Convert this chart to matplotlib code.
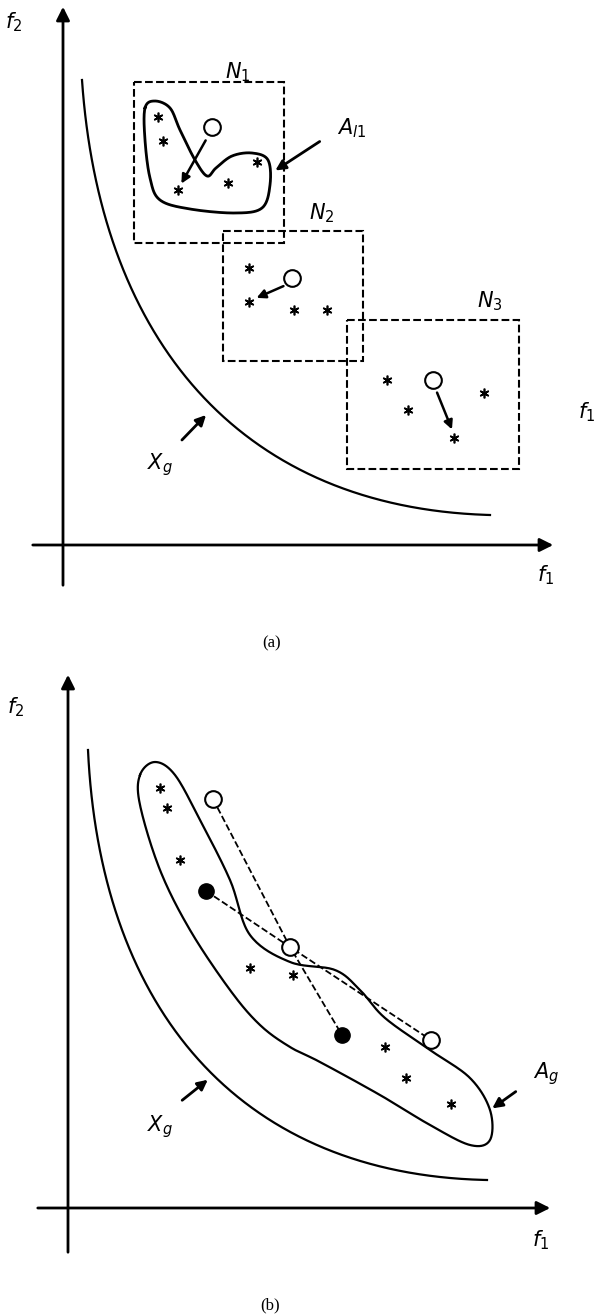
import numpy as np
import matplotlib
matplotlib.use("Agg")
import matplotlib.pyplot as plt
from matplotlib.patches import Rectangle, FancyArrowPatch

plt.rcParams['mathtext.fontset'] = 'custom'
plt.rcParams['mathtext.it'] = 'DejaVu Sans:italic'
plt.rcParams['mathtext.rm'] = 'DejaVu Sans'

# ---- data (pixel coordinates of the schematic) ----
boxes_a = [(134, 82, 284, 243), (223, 231, 363, 361), (347, 320, 519, 469)]
box_labels = ["$N_1$", "$N_2$", "$N_3$"]
box_label_pos = [(238, 72), (322, 213), (490, 301)]
stars_a = [(158, 117), (163, 141), (178, 190), (228, 183), (257, 162),
           (249, 268), (249, 302), (294, 310), (327, 310),
           (387, 380), (408, 410), (484, 393), (454, 438)]
circles_a = [(212, 127), (292, 278), (433, 380)]
moves_a = [((207, 138), (180, 186)), ((286, 285), (254, 299)), ((436, 390), (453, 432))]
blob_a = [(145, 108), (155, 101), (170, 108), (180, 130), (195, 160), (207, 176),
          (216, 168), (232, 156), (252, 153), (268, 160), (270, 185), (262, 208),
          (235, 213), (190, 209), (160, 200), (150, 178), (145, 140)]
blob_b = [(140, 775), (155, 762), (175, 775), (200, 820), (230, 880), (250, 935),
          (290, 962), (335, 970), (360, 990), (385, 1018), (430, 1050), (470, 1078),
          (490, 1110), (490, 1140), (470, 1145), (430, 1125), (380, 1095), (320, 1062),
          (290, 1047), (260, 1025), (230, 990), (190, 930), (160, 870), (140, 805)]
stars_b = [(160, 788), (167, 808), (180, 860), (250, 968), (293, 975),
           (385, 1047), (406, 1078), (451, 1104)]
open_b = [(213, 799), (290, 947), (431, 1040)]
filled_b = [(206, 891), (342, 1035)]
dash1 = [(213, 799), (290, 947), (342, 1035)]
dash2 = [(206, 891), (290, 947), (431, 1040)]


def catmull(pts, n=20):
    p = np.array(pts, float)
    m = len(p)
    out = []
    for i in range(m):
        p0, p1, p2, p3 = p[i - 1], p[i], p[(i + 1) % m], p[(i + 2) % m]
        for t in np.linspace(0, 1, n, endpoint=False):
            out.append(0.5 * ((2 * p1) + (-p0 + p2) * t + (2 * p0 - 5 * p1 + 4 * p2 - p3) * t ** 2
                              + (-p0 + 3 * p1 - 3 * p2 + p3) * t ** 3))
    out.append(out[0])
    return np.array(out)


def bez(p0, p1, p2, p3, n=200):
    t = np.linspace(0, 1, n)[:, None]
    p0, p1, p2, p3 = map(np.array, (p0, p1, p2, p3))
    return (1 - t) ** 3 * p0 + 3 * (1 - t) ** 2 * t * p1 + 3 * (1 - t) * t ** 2 * p2 + t ** 3 * p3


fig = plt.figure(figsize=(5.96, 13.16), dpi=100)
ax = fig.add_axes([0, 0, 1, 1])
ax.set_xlim(0, 596)
ax.set_ylim(1316, 0)
ax.axis('off')


def arrow(a, b, lw=2, ms=14):
    ax.add_patch(FancyArrowPatch(a, b, arrowstyle='-|>', mutation_scale=ms, lw=lw, color='black'))


def star(x, y):
    ax.plot(x, y, marker=(6, 2, 0), ms=7, mew=1.2, color='black')


tx = dict(fontsize=15, ha='center', va='center')

# ---- panel a ----
arrow((63, 588), (63, 4), lw=2, ms=20)
arrow((30, 545), (556, 545), lw=2, ms=20)
ax.text(14, 22, "$f_2$", **tx)
ax.text(546, 575, "$f_1$", **tx)
ax.text(587, 412, "$f_1$", **tx)
c = bez((82, 80), (100, 340), (240, 508), (490, 515))
ax.plot(c[:, 0], c[:, 1], color='black', lw=1.6)
for (x0, y0, x1, y1), lab, (lx, ly) in zip(boxes_a, box_labels, box_label_pos):
    ax.add_patch(Rectangle((x0, y0), x1 - x0, y1 - y0, fill=False, ls='--', lw=1.5, ec='black'))
    ax.text(lx, ly, lab, **tx)
bl = catmull(blob_a)
ax.plot(bl[:, 0], bl[:, 1], color='black', lw=2)
for s in stars_a:
    star(*s)
for a, b in moves_a:
    arrow(a, b, lw=1.8, ms=13)
for x, y in circles_a:
    ax.plot(x, y, 'o', ms=12, mfc='white', mec='black', mew=1.5)
ax.text(352, 128, "$A_{l1}$", **tx)
arrow((322, 140), (273, 172), lw=2, ms=15)
ax.text(160, 465, "$X_g$", **tx)
arrow((180, 442), (208, 413), lw=2, ms=15)
ax.text(272, 643, "(a)", fontsize=12, ha='center', va='center', family='Liberation Serif')

# ---- panel b ----
arrow((68, 1255), (68, 672), lw=2, ms=20)
arrow((35, 1208), (553, 1208), lw=2, ms=20)
ax.text(16, 707, "$f_2$", **tx)
ax.text(541, 1240, "$f_1$", **tx)
c = bez((88, 750), (100, 1010), (240, 1175), (487, 1180))
ax.plot(c[:, 0], c[:, 1], color='black', lw=1.6)
bl = catmull(blob_b)
ax.plot(bl[:, 0], bl[:, 1], color='black', lw=1.6)
for s in stars_b:
    star(*s)
for d in (dash1, dash2):
    d = np.array(d)
    ax.plot(d[:, 0], d[:, 1], ls='--', color='black', lw=1.3)
for x, y in open_b:
    ax.plot(x, y, 'o', ms=12, mfc='white', mec='black', mew=1.5)
for x, y in filled_b:
    ax.plot(x, y, 'o', ms=11, color='black')
ax.text(546, 1074, "$A_g$", **tx)
arrow((518, 1090), (490, 1110), lw=2, ms=15)
ax.text(160, 1127, "$X_g$", **tx)
arrow((180, 1102), (210, 1078), lw=2, ms=15)
ax.text(270, 1305, "(b)", fontsize=12, ha='center', va='center', family='Liberation Serif')

fig.savefig("out.png", dpi=100)
